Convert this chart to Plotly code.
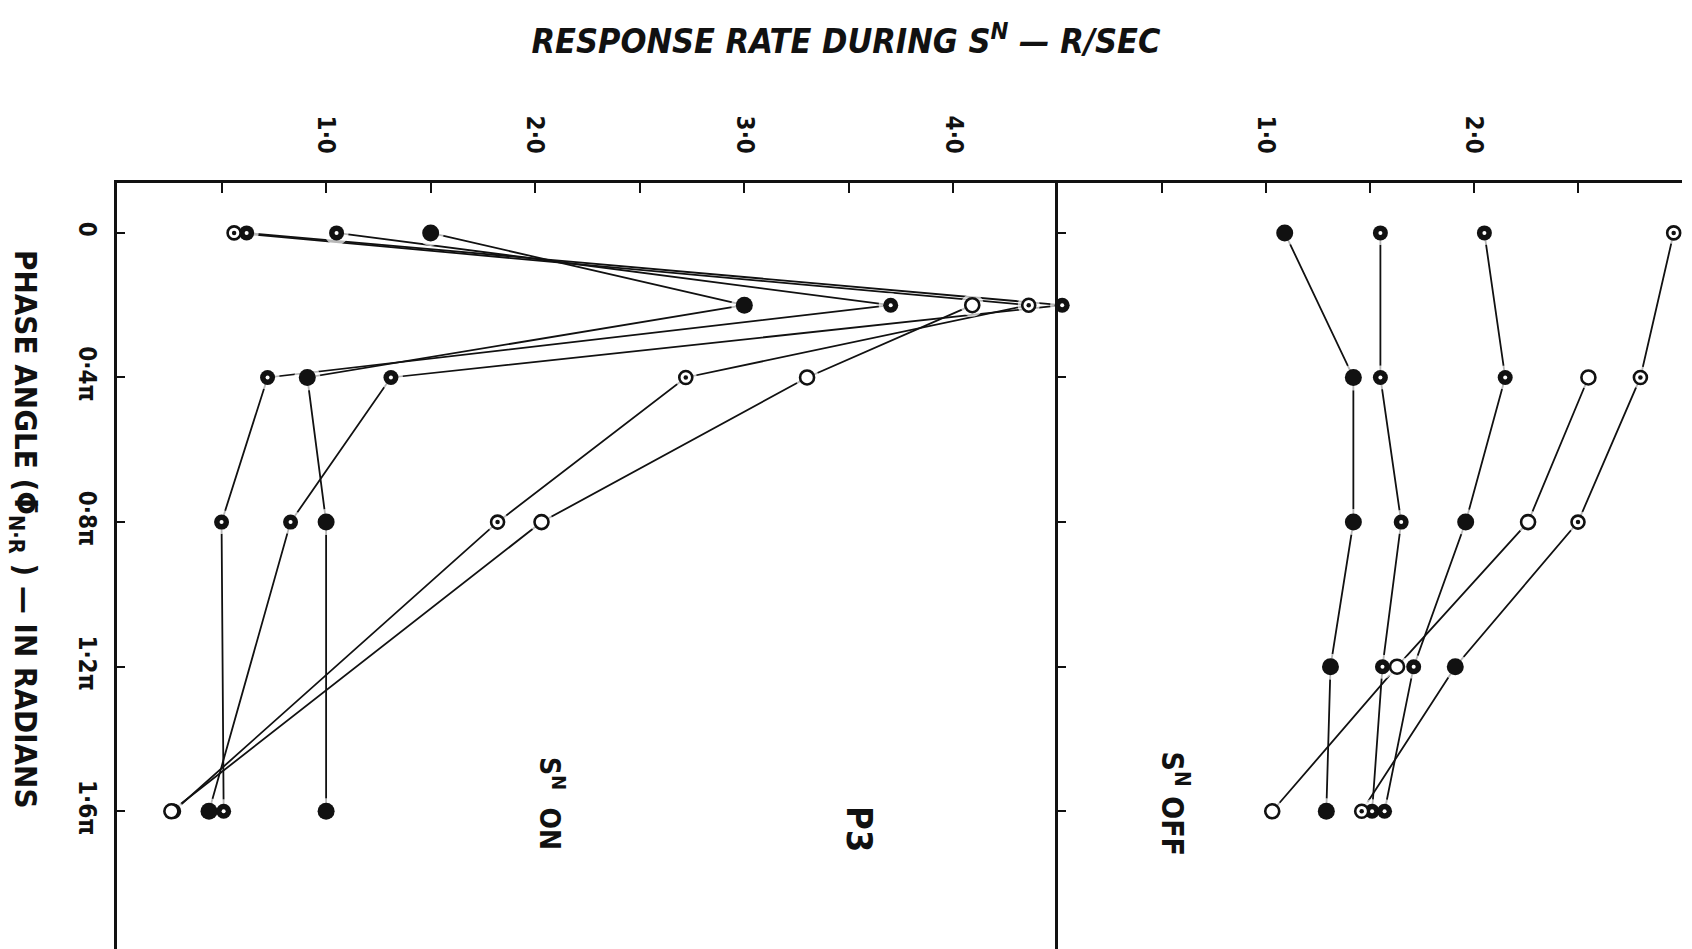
import plotly.graph_objects as go

# Phase angle between S^N and reinforcement, in multiples of pi
phase_on = [0.0, 0.2, 0.4, 0.8, 1.6]
phase_off = [0.0, 0.4, 0.8, 1.2, 1.6]

# Response rate during S^N (R/SEC), S^N ON panel
on_open = [None, 4.09, 3.30, 2.03, 0.26]
on_ring = [0.56, 4.36, 2.72, 1.82, 0.27]
on_solid = [1.50, 3.00, 0.91, 1.00, 1.00]
on_dot_a = [1.05, 3.70, 0.72, 0.50, 0.51]
on_dot_b = [0.62, 4.52, 1.31, 0.83, 0.44]

# Response rate during S^N (R/SEC), S^N OFF panel
off_solid = [1.09, 1.42, 1.42, 1.31, 1.29]
off_dot_a = [1.55, 1.55, 1.65, 1.56, 1.51]
off_dot_b = [2.05, 2.15, 1.96, 1.71, 1.57]
off_open = [None, 2.55, 2.26, 1.63, 1.03]
off_ring = [2.96, 2.80, 2.50, 1.91, 1.46]

# Axis ticks and labels
rate_ticks_on = [1.0, 2.0, 3.0, 4.0]
rate_labels_on = ["1·0", "2·0", "3·0", "4·0"]
rate_ticks_off = [1.0, 2.0]
rate_labels_off = ["1·0", "2·0"]
rate_minor_step = 0.5
phase_ticks = [0.0, 0.4, 0.8, 1.2, 1.6]
phase_labels = ["0", "0·4π", "0·8π", "1·2π", "1·6π"]

# Marker style of each point, per series
S, D, R, O = "solid", "dot", "ring", "open"
panels = [
    ("x", "y", phase_on, [
        (on_open, [O] * 5),
        (on_ring, [R] * 5),
        (on_solid, [S] * 5),
        (on_dot_a, [D] * 5),
        (on_dot_b, [D, D, D, D, S]),
    ]),
    ("x2", "y2", phase_off, [
        (off_solid, [S] * 5),
        (off_dot_a, [D] * 5),
        (off_dot_b, [D, D, S, D, D]),
        (off_open, [O] * 5),
        (off_ring, [R, R, R, S, R]),
    ]),
]

NARROW = "Liberation Sans Narrow, Arial Narrow, DejaVu Sans Condensed, sans-serif"
INK = "#111111"
SIZE = {S: 17, D: 15, R: 13, O: 14}

fig = go.Figure()

# connecting lines
for xa, ya, phases, series in panels:
    for vals, kinds in series:
        fig.add_trace(go.Scatter(
            x=vals, y=phases, xaxis=xa, yaxis=ya, mode="lines",
            line=dict(color=INK, width=1.8), hoverinfo="skip"))

# white halos leave a small gap between each line and its marker
for xa, ya, phases, series in panels:
    hx, hy, hs = [], [], []
    for vals, kinds in series:
        for v, p, k in zip(vals, phases, kinds):
            if v is None:
                continue
            hx.append(v); hy.append(p); hs.append(SIZE[k] + 9)
    fig.add_trace(go.Scatter(
        x=hx, y=hy, xaxis=xa, yaxis=ya, mode="markers", cliponaxis=False,
        marker=dict(symbol="circle", size=hs, color="white", line=dict(width=0)),
        hoverinfo="skip"))

# markers
for xa, ya, phases, series in panels:
    pts = {S: ([], []), D: ([], []), R: ([], []), O: ([], [])}
    for vals, kinds in series:
        for v, p, k in zip(vals, phases, kinds):
            if v is None:
                continue
            pts[k][0].append(v); pts[k][1].append(p)
    common = dict(xaxis=xa, yaxis=ya, mode="markers", cliponaxis=False, hoverinfo="skip")
    fig.add_trace(go.Scatter(x=pts[S][0], y=pts[S][1], **common,
                             marker=dict(size=SIZE[S], color=INK, line=dict(width=0))))
    fig.add_trace(go.Scatter(x=pts[D][0], y=pts[D][1], **common,
                             marker=dict(size=SIZE[D], color=INK, line=dict(width=0))))
    fig.add_trace(go.Scatter(x=pts[D][0], y=pts[D][1], **common,
                             marker=dict(size=4, color="white", line=dict(width=0))))
    fig.add_trace(go.Scatter(x=pts[R][0], y=pts[R][1], **common,
                             marker=dict(size=SIZE[R], color="white", line=dict(width=2.6, color=INK))))
    fig.add_trace(go.Scatter(x=pts[R][0], y=pts[R][1], **common,
                             marker=dict(size=4.5, color=INK, line=dict(width=0))))
    fig.add_trace(go.Scatter(x=pts[O][0], y=pts[O][1], **common,
                             marker=dict(size=SIZE[O], color="white", line=dict(width=2.6, color=INK))))

W, H = 1692, 949
ML, MR, MT, MB = 117, 10, 183, 0
PW = W - ML - MR
px_per_unit = 941 / 4.5
split = 941 / PW
# the S^N ON scale runs a hair past the panel divider so a point sitting on it stays visible
on_max = 4.53
on_end = on_max * px_per_unit / PW

tickfont = dict(family=NARROW, size=24, color=INK, weight="bold")
xcommon = dict(side="top", showline=True, linewidth=2.5, linecolor=INK,
               ticks="inside", ticklen=10, tickwidth=2, tickcolor=INK,
               showgrid=False, zeroline=False, tickangle=90, tickfont=tickfont,
               ticklabelstandoff=18, automargin=False, fixedrange=True)
minor = dict(ticks="inside", ticklen=10, tickwidth=2, tickcolor=INK, showgrid=False)
ycommon = dict(range=[1.981, -0.138], showline=True, linewidth=2.5, linecolor=INK,
               ticks="inside", ticklen=8, tickwidth=2, tickcolor=INK,
               showgrid=False, zeroline=False, tickvals=phase_ticks,
               automargin=False, fixedrange=True)

fig.update_layout(
    width=W, height=H,
    margin=dict(l=ML, r=MR, t=MT, b=MB),
    paper_bgcolor="white", plot_bgcolor="rgba(0,0,0,0)",
    showlegend=False,
    xaxis=dict(domain=[0, on_end], range=[0, on_max], anchor="y",
               tickvals=rate_ticks_on, ticktext=rate_labels_on,
               minor=dict(tickvals=[0.5, 1.5, 2.5, 3.5], **minor), **xcommon),
    xaxis2=dict(domain=[split, 1], range=[0, 3.0], anchor="y2",
                tickvals=rate_ticks_off, ticktext=rate_labels_off,
                minor=dict(tick0=0, dtick=rate_minor_step, **minor), **xcommon),
    yaxis=dict(anchor="x", ticktext=phase_labels, tickangle=90,
               tickfont=tickfont, ticklabelstandoff=6, **ycommon),
    yaxis2=dict(anchor="x2", showticklabels=False, **ycommon),
    title=dict(text="RESPONSE RATE DURING S<sup>N</sup> — R/SEC",
               x=0.5, xref="container", xanchor="center",
               y=1 - 41 / H, yref="container", yanchor="middle",
               font=dict(family=NARROW, size=34, color=INK, style="italic", weight="bold")),
)

fig.add_annotation(
    text="PHASE ANGLE (Φ̄<sub>N·R</sub> ) — IN RADIANS",
    xref="paper", yref="paper", x=(24 - ML) / PW, y=(H - 529) / (H - MT - MB),
    xanchor="center", yanchor="middle", textangle=90, showarrow=False,
    font=dict(family=NARROW, size=31, color=INK, weight="bold"))

fig.add_annotation(text="S<sup>N</sup>\u00a0 ON", xref="x", yref="y", x=2.08, y=1.58,
                   textangle=90, showarrow=False,
                   font=dict(family=NARROW, size=28, color=INK, weight="bold"))
fig.add_annotation(text="P3", xref="x", yref="y", x=3.55, y=1.65,
                   textangle=90, showarrow=False,
                   font=dict(family=NARROW, size=36, color=INK, weight="bold"))
fig.add_annotation(text="S<sup>N</sup>\u00a0OFF", xref="x2", yref="y2", x=0.56, y=1.58,
                   textangle=90, showarrow=False,
                   font=dict(family=NARROW, size=30, color=INK, weight="bold"))

fig.write_html("out.html")
